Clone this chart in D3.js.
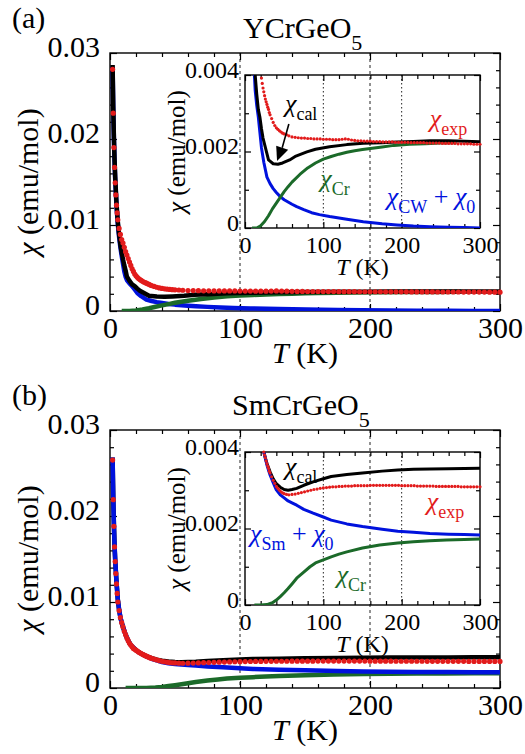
<!DOCTYPE html>
<html>
<head>
<meta charset="utf-8">
<script src="https://cdn.jsdelivr.net/npm/d3@7"></script>
<style>
  body { margin: 0; background: #fff; }
</style>
</head>
<body>
<div id="chart"></div>
<script>
// axis ticks
var tempTicks = [0, 100, 200, 300];
var chiTicksMain = [0, 0.01, 0.02, 0.03];
var chiTicksInset = [0, 0.002, 0.004];
var gridTemps = [100, 200];

// (a) YCrGeO5  -- [T (K), chi (emu/mol)]
var yExp = [[2,0.0281],[2.5,0.0230],[3,0.0190],[3.5,0.0167],[4,0.0149],[4.5,0.0135],[5,0.0123],[5.5,0.0114],[6,0.0106],
  [7,0.0096],[8,0.0089],[9,0.0083],[10,0.0079],[11,0.0074],[12,0.0069],[13,0.0065],[14,0.0061],[15,0.0057],[16,0.0053],
  [17,0.0049],[18,0.0046],[19,0.0043],[20,0.0041],[21,0.00392],[22,0.00378],[23,0.00366],[24,0.00356],[25,0.00346],
  [26,0.00337],[27,0.0033],[28,0.00323],[29,0.00316],[30,0.0031],[31,0.00302],[32,0.00296],[34,0.00286],[36,0.00276],
  [38,0.00268],[40,0.00262],[42,0.00258],[44,0.00254],[46,0.00251],[48,0.00248],[50,0.00246],[53,0.00244],[56,0.00241],
  [60,0.00238],[64,0.00237],[68,0.00236],[72,0.00235],[76,0.00235],[80,0.00234],[84,0.00234],[88,0.00233],[92,0.00233],
  [96,0.00233],[100,0.00232],[104,0.00232],[108,0.00232],[112,0.00231],[116,0.00231],[120,0.00231],[124,0.00232],
  [128,0.00233],[132,0.00232],[136,0.0023],[140,0.00229],[144,0.00228],[148,0.00228],[152,0.00227],[156,0.00227],
  [160,0.00227],[164,0.00226],[168,0.00226],[172,0.00226],[176,0.00225],[180,0.00225],[184,0.00225],[188,0.00225],
  [192,0.00224],[196,0.00224],[200,0.00224],[204,0.00224],[208,0.00224],[212,0.00223],[216,0.00223],[220,0.00223],
  [224,0.00223],[228,0.00223],[232,0.00222],[236,0.00222],[240,0.00222],[244,0.00222],[248,0.00222],[252,0.00221],
  [256,0.00221],[260,0.00221],[264,0.00221],[268,0.00221],[272,0.0022],[276,0.0022],[280,0.0022],[284,0.0022],
  [288,0.0022],[292,0.00219],[296,0.00219],[300,0.00219]];
var yCal = [[2,0.0286],[2.5,0.0238],[3,0.0202],[3.5,0.0176],[4,0.0156],[5,0.0125],[6,0.0104],[7,0.0089],[8,0.0077],
  [9,0.0068],[10,0.006],[11,0.0053],[12,0.0047],[13,0.004],[15,0.0035],[17,0.0031],[19,0.0029],[21,0.0026],[23,0.00235],
  [30,0.00178],[36,0.00168],[42,0.001665],[48,0.0017],[57,0.00178],[65,0.00188],[79,0.00199],[90,0.00206],[108,0.002125],
  [130,0.00218],[151,0.002214],[175,0.00223],[194,0.002248],[215,0.00226],[236,0.00228],[260,0.00228],[280,0.00227],
  [300,0.002256]];
var yCW = [[2,0.0284],[2.5,0.0236],[3,0.02],[3.5,0.0174],[4,0.0153],[5,0.0122],[6,0.0101],[7,0.0086],[8,0.0074],
  [9,0.0064],[10,0.0055],[11,0.0046],[12,0.004],[13,0.0036],[15,0.0032],[17,0.0029],[19,0.0025],[21,0.0021],[24,0.00172],
  [28,0.00133],[32,0.00116],[36,0.00103],[40,0.00093],[45,0.00082],[50,0.00074],[55,0.00068],[60,0.00062],[66,0.000557],
  [75,0.00048],[85,0.0004],[95,0.00035],[108,0.0003],[130,0.00023],[151,0.000166],[175,0.00011],[194,0.00008],
  [215,0.00005],[236,0.000035],[260,0.00002],[280,0.00001],[300,0]];
var yCr = [[9,0],[15,0],[20,0.00006],[25,0.00017],[30,0.00032],[35,0.0005],[40,0.00065],[45,0.0008],[50,0.00095],
  [55,0.00108],[60,0.0012],[70,0.0014],[80,0.00157],[90,0.0017],[100,0.0018],[110,0.00187],[120,0.00193],[130,0.00198],
  [140,0.00202],[150,0.00205],[160,0.00208],[175,0.00212],[190,0.00216],[210,0.00219],[230,0.0022],[250,0.00222],
  [270,0.00223]];

// (b) SmCrGeO5
var smExp = [[2,0.0265],[2.5,0.0219],[3,0.0188],[3.5,0.0164],[4,0.0147],[4.5,0.0133],[5,0.0121],[5.5,0.011],[6,0.01],
  [7,0.009],[8,0.0082],[9,0.0076],[10,0.0071],[11,0.0066],[12,0.0062],[13,0.0058],[14,0.0055],[15,0.0052],[16,0.005],
  [17,0.0048],[18,0.0046],[19,0.0045],[20,0.0044],[21,0.0043],[22,0.00418],[23,0.0041],[24,0.004],[25,0.00392],
  [26,0.00385],[27,0.00377],[28,0.0037],[29,0.00363],[30,0.00357],[31,0.0035],[32,0.00345],[34,0.00335],[36,0.00326],
  [38,0.00318],[40,0.0031],[42,0.00305],[44,0.003],[46,0.00296],[48,0.00293],[50,0.00291],[53,0.00289],[56,0.00288],
  [60,0.00289],[64,0.0029],[68,0.00292],[72,0.00294],[76,0.00296],[80,0.00298],[84,0.003],[88,0.00302],[92,0.00303],
  [96,0.00305],[100,0.00306],[104,0.00307],[108,0.00308],[112,0.00309],[116,0.00309],[120,0.0031],[124,0.0031],
  [128,0.00311],[132,0.00311],[136,0.00311],[140,0.00312],[144,0.00312],[148,0.00312],[152,0.00312],[156,0.00312],
  [160,0.00313],[164,0.00313],[168,0.00313],[172,0.00313],[176,0.00313],[180,0.00313],[184,0.00313],[188,0.00313],
  [192,0.00313],[196,0.00313],[200,0.00312],[204,0.00312],[208,0.00312],[212,0.00312],[216,0.00312],[220,0.00311],
  [224,0.00311],[228,0.00311],[232,0.00311],[236,0.00311],[240,0.00311],[244,0.0031],[248,0.0031],[252,0.0031],
  [256,0.0031],[260,0.0031],[264,0.0031],[268,0.0031],[272,0.0031],[276,0.00309],[280,0.00309],[284,0.00309],
  [288,0.00309],[292,0.00309],[296,0.00309],[300,0.00309]];
var smCal = [[2,0.0268],[2.5,0.0222],[3,0.019],[3.5,0.0166],[4,0.0149],[5,0.0123],[6,0.0103],[7,0.0091],[8,0.0082],
  [9,0.0076],[10,0.0071],[12,0.0062],[14,0.0055],[16,0.005],[18,0.0047],[20,0.0044],[22,0.00418],[24,0.004],[28,0.0037],
  [32,0.00348],[36,0.0033],[40,0.00317],[45,0.00308],[50,0.00302],[55,0.003],[60,0.00302],[66,0.00305],[75,0.00313],
  [87,0.00322],[100,0.0033],[110,0.00336],[130,0.00341],[150,0.00345],[175,0.0035],[195,0.00353],[215,0.00355],
  [236,0.003555],[260,0.00356],[280,0.00357],[300,0.003573]];
var smSm = [[2,0.0268],[2.5,0.0222],[3,0.019],[3.5,0.0166],[4,0.0149],[5,0.0123],[6,0.0103],[7,0.0091],[8,0.0082],
  [9,0.0076],[10,0.0071],[12,0.0062],[14,0.0055],[16,0.005],[18,0.0047],[20,0.0044],[22,0.00418],[24,0.004],[26,0.00383],
  [28,0.00366],[32,0.0034],[36,0.0032],[40,0.00301],[45,0.00288],[50,0.0028],[55,0.00272],[60,0.00267],[66,0.00261],
  [75,0.0025],[87,0.0024],[100,0.0023],[110,0.00222],[130,0.00212],[150,0.00205],[175,0.00198],[195,0.00193],
  [215,0.0019],[236,0.00187],[260,0.00185],[280,0.00184],[300,0.00183]];
var smCr = [[12,0],[20,0],[28,0.00001],[35,0.00006],[40,0.00013],[45,0.00022],[50,0.00032],[55,0.00043],[60,0.00055],
  [66,0.0007],[75,0.00086],[83,0.001],[90,0.0011],[100,0.00118],[110,0.00126],[120,0.00133],[130,0.00139],[150,0.00149],
  [172,0.00157],[195,0.00162],[215,0.001655],[236,0.00168],[257,0.0017],[280,0.00171],[300,0.001725]];

var W = 525, H = 754;
var serif = '"Liberation Serif", "Times New Roman", Times, serif';
var colors = { exp: "#e21b1b", cal: "#000000", base: "#0012dd", cr: "#1b6a29" };

var svg = d3.select("#chart").append("svg")
  .attr("width", W).attr("height", H);

var mainBox = { left: 110, right: 500, top: 53, bottom: 311 };
var insetBox = { left: 245, right: 480, top: 75, bottom: 228 };

function makeScales(box, ymax) {
  return {
    x: d3.scaleLinear().domain([0, 300]).range([box.left, box.right]),
    y: d3.scaleLinear().domain([0, ymax]).range([box.bottom, box.top])
  };
}

function drawAxes(g, s, o) {
  var L = s.x.range()[0], R = s.x.range()[1], B = s.y.range()[0], T = s.y.range()[1];

  g.selectAll(null).data(gridTemps).enter().append("line")
    .attr("x1", function(d) { return s.x(d); }).attr("x2", function(d) { return s.x(d); })
    .attr("y1", T).attr("y2", B)
    .attr("stroke", "#222").attr("stroke-width", 1).attr("stroke-dasharray", o.dash);

  var list = [
    { fn: d3.axisBottom, sc: s.x, tf: "translate(0," + B + ")", major: tempTicks, minor: o.xMinor, fmt: d3.format("d"), pad: o.xPad },
    { fn: d3.axisTop, sc: s.x, tf: "translate(0," + T + ")", major: tempTicks, minor: o.xMinor },
    { fn: d3.axisLeft, sc: s.y, tf: "translate(" + L + ",0)", major: o.yMajor, minor: o.yMinor, fmt: o.yFmt, pad: o.yPad, left: true },
    { fn: d3.axisRight, sc: s.y, tf: "translate(" + R + ",0)", major: o.yMajor, minor: o.yMinor }
  ];
  list.forEach(function(a) {
    g.append("g").attr("transform", a.tf)
      .call(a.fn(a.sc).tickValues(a.minor).tickSizeInner(-o.minorLen).tickSizeOuter(0).tickFormat(""))
      .call(function(sel) { sel.select(".domain").remove(); });
    var ax = g.append("g").attr("transform", a.tf)
      .call(a.fn(a.sc).tickValues(a.major).tickSizeInner(-o.majorLen).tickSizeOuter(0)
        .tickPadding(a.pad || 0).tickFormat(a.fmt || function() { return ""; }))
      .call(function(sel) { sel.select(".domain").remove(); })
      .attr("font-size", o.font);
    if (a.left) ax.selectAll("text").attr("dy", "0.1em");
  });
  g.selectAll(".tick line").attr("stroke-width", 1.2);

  g.append("rect")
    .attr("x", L).attr("y", T).attr("width", R - L).attr("height", B - T)
    .attr("fill", "none").attr("stroke", "#000").attr("stroke-width", 1.4);
}

function drawCurves(g, s, series, clipId, lineW, dotR) {
  var box = { x: s.x.range()[0], y: s.y.range()[1], w: s.x.range()[1] - s.x.range()[0], h: s.y.range()[0] - s.y.range()[1] };
  g.append("clipPath").attr("id", clipId).append("rect")
    .attr("x", box.x).attr("y", box.y).attr("width", box.w).attr("height", box.h);
  var line = d3.line().x(function(d) { return s.x(d[0]); }).y(function(d) { return s.y(d[1]); });
  var ymax = s.y.domain()[1];
  series.forEach(function(sr) {
    if (sr.dots) {
      g.append("g").selectAll("circle")
        .data(sr.data.filter(function(d) { return d[1] <= ymax; }))
        .enter().append("circle")
        .attr("cx", function(d) { return s.x(d[0]); })
        .attr("cy", function(d) { return s.y(d[1]); })
        .attr("r", dotR).attr("fill", sr.color);
    } else {
      g.append("path").attr("clip-path", "url(#" + clipId + ")")
        .attr("d", line(sr.data))
        .attr("fill", "none").attr("stroke", sr.color).attr("stroke-width", lineW)
        .attr("stroke-linejoin", "round");
    }
  });
}

// chi label with subscripts: parts = [[text, "chi"|"sub"|"plain"], ...]
function chiLabel(g, x, y, parts, color) {
  var t = g.append("text").attr("x", x).attr("y", y).attr("fill", color).attr("font-size", 26);
  var low = false;
  parts.forEach(function(p) {
    var sp = t.append("tspan").text(p[0]);
    if (p[1] === "sub") {
      sp.attr("font-size", 18);
      if (!low) { sp.attr("dy", 8); low = true; }
    } else {
      if (low) { sp.attr("dy", -8); low = false; }
      if (p[1] === "chi") sp.attr("font-style", "italic");
    }
  });
}

function drawPanel(g, p) {
  var m = makeScales(mainBox, 0.03);
  var ins = makeScales(insetBox, 0.004);

  drawAxes(g, m, {
    dash: "3,3", xMinor: d3.range(20, 300, 20).filter(function(t) { return t % 100; }),
    yMajor: chiTicksMain,
    yMinor: d3.range(1, 15).filter(function(i) { return i % 5; }).map(function(i) { return i * 0.002; }),
    yFmt: function(d) { return d === 0 ? "0" : d3.format(".2f")(d); },
    xPad: 6, yPad: 10, majorLen: 7, minorLen: 4, font: 30
  });
  drawCurves(g, m, p.series, p.id + "-main", 4.5, 2.6);

  drawAxes(g, ins, {
    dash: "1.5,2.5", xMinor: d3.range(20, 300, 20).filter(function(t) { return t % 100; }),
    yMajor: chiTicksInset, yMinor: [0.001, 0.003],
    yFmt: function(d) { return d === 0 ? "0" : d3.format(".3f")(d); },
    xPad: 8, yPad: 6, majorLen: 6, minorLen: 4, font: 24
  });
  drawCurves(g, ins, p.series, p.id + "-inset", 3, 1.6);

  // axis titles
  var xt = g.append("text").attr("x", (mainBox.left + mainBox.right) / 2).attr("y", 363)
    .attr("text-anchor", "middle").attr("font-size", 30);
  xt.append("tspan").attr("font-style", "italic").text("T");
  xt.append("tspan").text(" (K)");

  var yt = g.append("text").attr("transform", "translate(38," + (mainBox.top + mainBox.bottom) / 2 + ") rotate(-90)")
    .attr("text-anchor", "middle").attr("font-size", 30);
  yt.append("tspan").attr("font-style", "italic").text("χ");
  yt.append("tspan").text(" (emu/mol)");

  var ixt = g.append("text").attr("x", (insetBox.left + insetBox.right) / 2).attr("y", 275)
    .attr("text-anchor", "middle").attr("font-size", 24);
  ixt.append("tspan").attr("font-style", "italic").text("T");
  ixt.append("tspan").text(" (K)");

  var iyt = g.append("text").attr("transform", "translate(185," + (insetBox.top + insetBox.bottom) / 2 + ") rotate(-90)")
    .attr("text-anchor", "middle").attr("font-size", 25);
  iyt.append("tspan").attr("font-style", "italic").text("χ");
  iyt.append("tspan").text(" (emu/mol)");

  // panel tag and compound name
  g.append("text").attr("x", 12).attr("y", 28).attr("font-size", 30).text(p.tag);
  var tt = g.append("text").attr("x", p.titleX).attr("y", 38).attr("font-size", 30);
  tt.append("tspan").text(p.title);
  tt.append("tspan").attr("font-size", 22).attr("dy", 12).text("5");

  return ins;
}

// (a)
var gA = svg.append("g");
var insA = drawPanel(gA, {
  id: "a", tag: "(a)", title: "YCrGeO", titleX: 243,
  series: [
    { data: yCW, color: colors.base },
    { data: yCr, color: colors.cr },
    { data: yCal, color: colors.cal },
    { data: yExp, color: colors.exp, dots: true }
  ]
});
chiLabel(gA, insA.x(51), insA.y(0.00303), [["χ", "chi"], ["cal", "sub"]], colors.cal);
chiLabel(gA, insA.x(236), insA.y(0.00264), [["χ", "chi"], ["exp", "sub"]], colors.exp);
chiLabel(gA, insA.x(96), insA.y(0.00107), [["χ", "chi"], ["Cr", "sub"]], colors.cr);
chiLabel(gA, insA.x(181), insA.y(0.0006), [["χ", "chi"], ["CW", "sub"], [" + ", "plain"], ["χ", "chi"], ["0", "sub"]], colors.base);
// arrow to the minimum of chi_cal
gA.append("line")
  .attr("x1", insA.x(56)).attr("y1", insA.y(0.00272))
  .attr("x2", insA.x(47.5)).attr("y2", insA.y(0.0021))
  .attr("stroke", "#000").attr("stroke-width", 1.6);
gA.append("path")
  .attr("d", "M" + insA.x(40.9) + "," + insA.y(0.00175) +
    " L" + (insA.x(47.5) - 6) + "," + (insA.y(0.0021) - 2) +
    " L" + (insA.x(47.5) + 6) + "," + (insA.y(0.0021) + 2) + " Z")
  .attr("fill", "#000");

// (b)
var gB = svg.append("g").attr("transform", "translate(0,377)");
var insB = drawPanel(gB, {
  id: "b", tag: "(b)", title: "SmCrGeO", titleX: 232,
  series: [
    { data: smCal, color: colors.cal },
    { data: smCr, color: colors.cr },
    { data: smSm, color: colors.base },
    { data: smExp, color: colors.exp, dots: true }
  ]
});
chiLabel(gB, insB.x(51), insB.y(0.0034), [["χ", "chi"], ["cal", "sub"]], colors.cal);
chiLabel(gB, insB.x(232), insB.y(0.00248), [["χ", "chi"], ["exp", "sub"]], colors.exp);
chiLabel(gB, insB.x(6.4), insB.y(0.00165), [["χ", "chi"], ["Sm", "sub"], [" + ", "plain"], ["χ", "chi"], ["0", "sub"]], colors.base);
chiLabel(gB, insB.x(117), insB.y(0.000575), [["χ", "chi"], ["Cr", "sub"]], colors.cr);

// one serif face for every label
svg.selectAll("text").style("font-family", serif);
</script>
</body>
</html>
